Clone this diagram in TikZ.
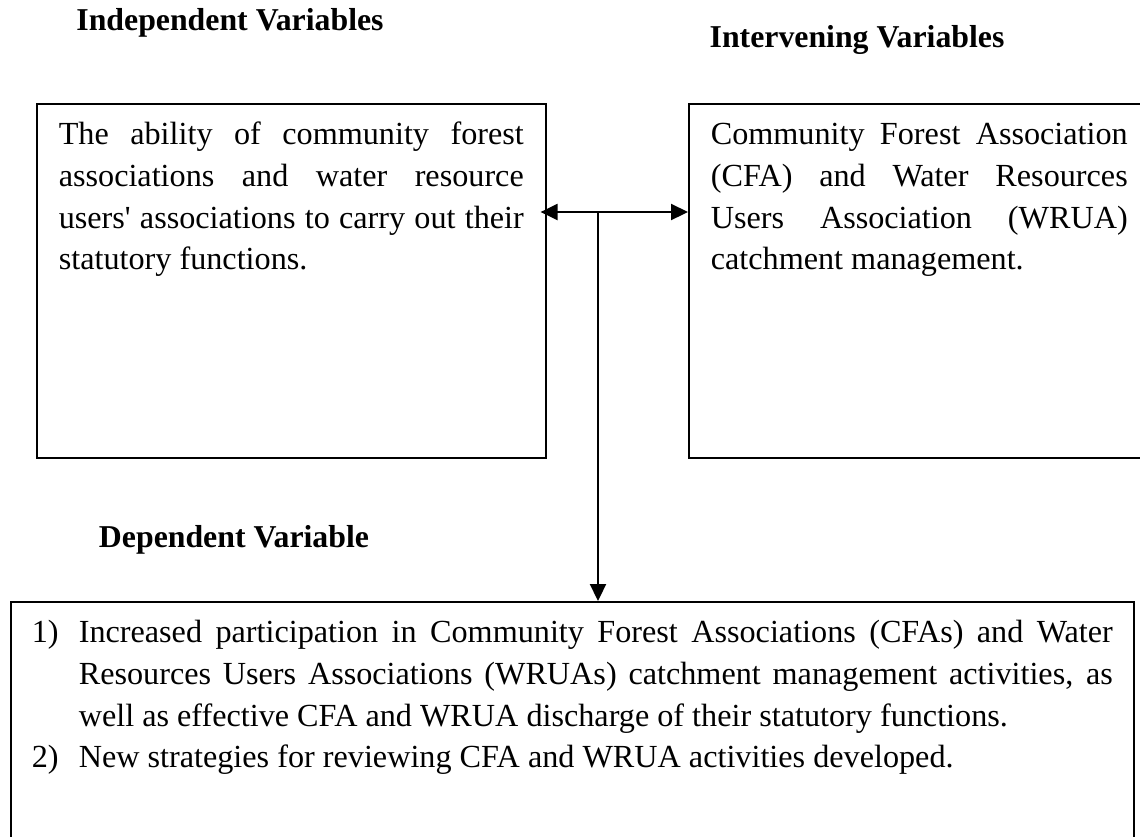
\documentclass[tikz,border=0pt]{standalone}
\usepackage{fontspec}
\setmainfont{Liberation Serif}
\usepackage{tikz}
\usetikzlibrary{arrows.meta}

\begin{document}
\begin{tikzpicture}[x=0.5pt, y=-0.5pt,
    every node/.style={font=\fontsize{16.1}{20.8}\selectfont},
    varbox/.style={draw, line width=0.8pt, anchor=north west, inner xsep=11pt, inner ysep=6pt},
    heading/.style={font=\fontsize{15.9}{20.8}\selectfont\bfseries},
    link/.style={line width=1.1pt, >={Triangle[length=8.5pt,width=8pt]}}]
    \useasboundingbox (0,0) rectangle (1140,836);

    % Headings
    \node[heading] (indephead) at (230, 23) {Independent Variables};
    \node[heading] (intervhead) at (857, 40) {Intervening Variables};
    \node[heading] (dephead) at (234, 540) {Dependent Variable};

    % Independent variable box
    \node[varbox] (indep) at (36, 103) {\parbox[t][165pt][t]{232.5pt}{\strut The ability of community forest\linebreak
        associations and water resource\linebreak
        users\textquotesingle{} associations to carry out their\linebreak
        statutory functions.}};

    % Intervening variable box
    \node[varbox] (interv) at (688, 103) {\parbox[t][165pt][t]{208.5pt}{\strut Community Forest Association\linebreak
        (CFA) and Water Resources\linebreak
        Users Association (WRUA)\linebreak
        catchment management.}};

    % Dependent variable box
    \node[varbox, inner xsep=10.5pt] (dep) at (10, 601) {\parbox[t][140pt][t]{540.5pt}{%
        \hangindent=23.5pt\hangafter=1\noindent\strut\makebox[23.5pt][l]{1)}Increased participation in Community Forest Associations (CFAs) and Water\linebreak
        Resources Users Associations (WRUAs) catchment management activities, as\linebreak
        well as effective CFA and WRUA discharge of their statutory functions.\par
        \hangindent=23.5pt\hangafter=1\noindent\makebox[23.5pt][l]{2)}New strategies for reviewing CFA and WRUA activities developed.}};

    % Links
    \coordinate (hub) at (598, 212);
    \draw[link, <->, shorten <=-3pt] (indep.east |- hub) -- (interv.west |- hub);
    \draw[link, ->] (hub) -- (dep.north -| hub);
\end{tikzpicture}
\end{document}
